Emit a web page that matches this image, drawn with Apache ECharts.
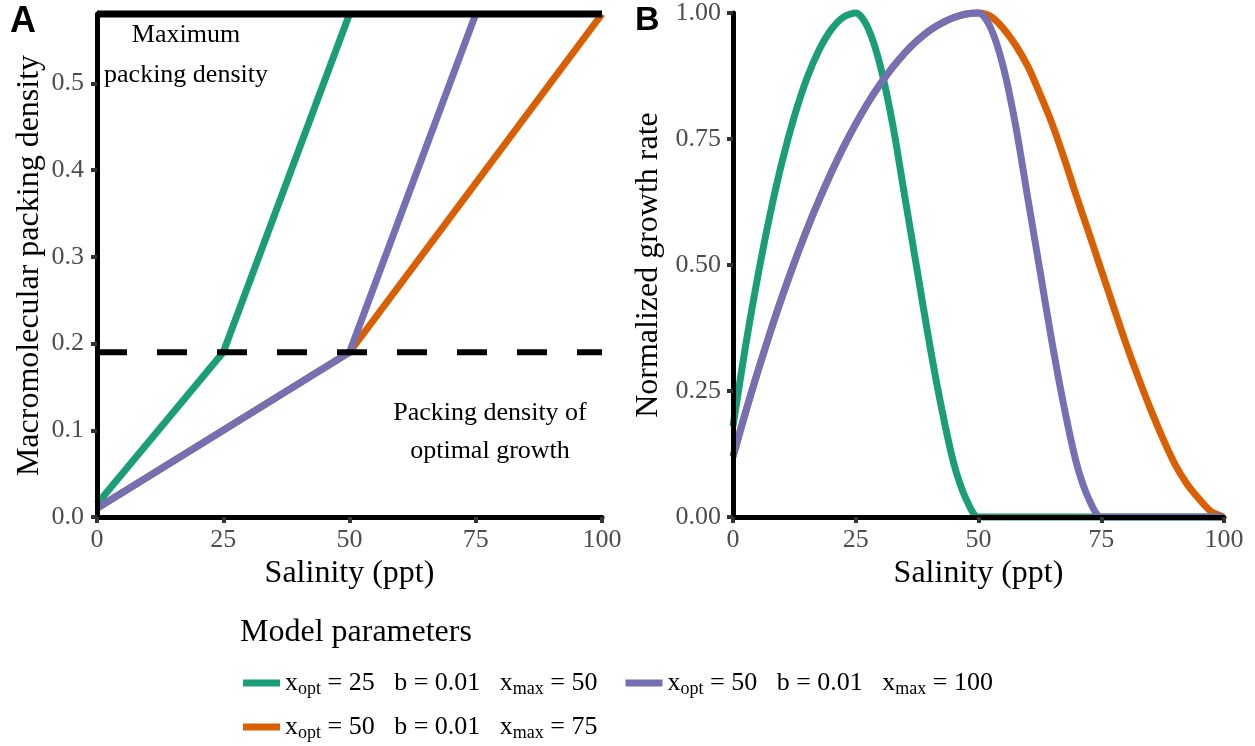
<!DOCTYPE html>
<html><head><meta charset="utf-8">
<script src="https://cdn.jsdelivr.net/npm/echarts@6/dist/echarts.min.js"></script>
<style>html,body{margin:0;padding:0;background:#fff}#c{width:1255px;height:746px}</style>
</head><body><div id="c"></div>
<script>
// ---------- data ----------
const salinityTicks = [0, 25, 50, 75, 100];
const packTicks = [0, 0.1, 0.2, 0.3, 0.4, 0.5];
const growthTicks = [0, 0.25, 0.5, 0.75, 1];
const maxPacking = 0.58;
const optPacking = 0.19;

// Panel A: macromolecular packing density
const packGreenX = [0, 25, 50];
const packGreenY = [0.015, 0.19, 0.58];
const packPurpleX = [0, 50, 75];
const packPurpleY = [0.01, 0.19, 0.58];
const packOrangeX = [0, 50, 100];
const packOrangeY = [0.01, 0.19, 0.58];

// Panel B: normalized growth rate
const salinity = [0, 2.5, 5, 7.5, 10, 12.5, 15, 17.5, 20, 22.5, 25, 27.5, 30, 32.5, 35, 37.5, 40, 42.5, 45, 47.5,
  50, 52.5, 55, 57.5, 60, 62.5, 65, 67.5, 70, 72.5, 75, 77.5, 80, 82.5, 85, 87.5, 90, 92.5, 95, 97.5, 100];
const growthGreen = [0.18, 0.336, 0.475, 0.598, 0.705, 0.795, 0.869, 0.926, 0.967, 0.992, 1.00, 0.97, 0.895, 0.78, 0.635, 0.49, 0.345, 0.215, 0.105, 0.035,
  0, 0, 0, 0, 0, 0, 0, 0, 0, 0, 0, 0, 0, 0, 0, 0, 0, 0, 0, 0, 0];
const growthPurple = [0.12, 0.206, 0.287, 0.364, 0.437, 0.505, 0.569, 0.628, 0.683, 0.734, 0.780, 0.822, 0.859, 0.892, 0.921, 0.945, 0.965, 0.980, 0.991, 0.998,
  1.00, 0.97, 0.895, 0.78, 0.635, 0.49, 0.345, 0.215, 0.105, 0.035, 0, 0, 0, 0, 0, 0, 0, 0, 0, 0, 0];
const growthOrange = [0.12, 0.206, 0.287, 0.364, 0.437, 0.505, 0.569, 0.628, 0.683, 0.734, 0.780, 0.822, 0.859, 0.892, 0.921, 0.945, 0.965, 0.980, 0.991, 0.998,
  1.00, 0.993, 0.97, 0.937, 0.895, 0.84, 0.78, 0.71, 0.635, 0.563, 0.49, 0.417, 0.345, 0.278, 0.215, 0.157, 0.105, 0.065, 0.035, 0.01, 0];

const seriesKeys = ['green', 'purple', 'orange'];
const legendOpt = [25, 50, 50];
const legendB = ['0.01', '0.01', '0.01'];
const legendMax = [50, 100, 75];

// ---------- styles ----------
const COL = { green: '#1B9E77', purple: '#7570B3', orange: '#D95F02' };
const SERIF = 'Liberation Serif';
const LW = 7;

const zip = (xs, ys) => xs.map((x, i) => [x, ys[i]]);

function xAxisCfg(gi) {
  return {
    type: 'value', gridIndex: gi, min: 0, max: 100, interval: 25, z: 5,
    name: 'Salinity (ppt)', nameLocation: 'middle', nameGap: 38,
    nameTextStyle: { fontFamily: SERIF, fontSize: 32, color: '#000' },
    axisLine: { show: true, onZero: false, lineStyle: { color: '#000', width: 5 } },
    axisTick: { show: true, length: 6, lineStyle: { color: '#333', width: 4 }, customValues: salinityTicks },
    axisLabel: { fontFamily: SERIF, fontSize: 26, color: '#4D4D4D', margin: 10, customValues: salinityTicks },
    splitLine: { show: false }
  };
}

const labelMap = {};
seriesKeys.forEach((k, i) => {
  labelMap[k] = 'x{s|opt}{n| = ' + legendOpt[i] + '   b = ' + legendB[i] + '   }x{s|max}{n| = ' + legendMax[i] + '}';
});

const legendText = {
  fontFamily: SERIF, fontSize: 26, color: '#000', lineHeight: 30,
  rich: {
    n: { fontFamily: SERIF, fontSize: 26, color: '#000', lineHeight: 30 },
    s: { fontFamily: SERIF, fontSize: 18, color: '#000', lineHeight: 12, verticalAlign: 'bottom' }
  }
};

function lineSeries(name, data, xi, yi, color, z) {
  return {
    name: name, type: 'line', xAxisIndex: xi, yAxisIndex: yi, data: data,
    showSymbol: false, symbol: 'none', clip: false, z: z || 2,
    lineStyle: { color: color, width: LW, join: 'round', cap: 'butt' },
    itemStyle: { color: color }
  };
}

const chart = echarts.init(document.getElementById('c'), null, { renderer: 'canvas' });
chart.setOption({
  animation: false,
  backgroundColor: '#fff',
  grid: [
    { left: 97, right: 653, top: 14, bottom: 229 },
    { left: 733, right: 31, top: 13, bottom: 229 }
  ],
  xAxis: [xAxisCfg(0), xAxisCfg(1)],
  yAxis: [
    {
      type: 'value', gridIndex: 0, min: 0, max: maxPacking, z: 5,
      name: 'Macromolecular packing density', nameLocation: 'middle', nameGap: 51,
      nameTextStyle: { fontFamily: SERIF, fontSize: 32, color: '#000' },
      axisLine: { show: true, onZero: false, lineStyle: { color: '#000', width: 5 } },
      axisTick: { show: true, length: 6, lineStyle: { color: '#333', width: 4 }, customValues: packTicks },
      axisLabel: { fontFamily: SERIF, fontSize: 26, color: '#4D4D4D', margin: 13, customValues: packTicks,
        formatter: v => Number(v).toFixed(1) },
      splitLine: { show: false }
    },
    {
      type: 'value', gridIndex: 1, min: 0, max: 1, interval: 0.25, z: 5,
      name: 'Normalized growth rate', nameLocation: 'middle', nameGap: 68,
      nameTextStyle: { fontFamily: SERIF, fontSize: 32, color: '#000' },
      axisLine: { show: true, onZero: false, lineStyle: { color: '#000', width: 5 } },
      axisTick: { show: true, length: 6, lineStyle: { color: '#333', width: 4 }, customValues: growthTicks },
      axisLabel: { fontFamily: SERIF, fontSize: 26, color: '#4D4D4D', margin: 12, customValues: growthTicks,
        formatter: v => Number(v).toFixed(2) },
      splitLine: { show: false }
    }
  ],
  legend: [
    {
      data: ['green', 'purple'], left: 243, top: 668, orient: 'horizontal', padding: 0,
      icon: 'rect', itemWidth: 37, itemHeight: 7, itemGap: 28,
      formatter: n => labelMap[n], textStyle: legendText, selectedMode: false
    },
    {
      data: ['orange'], left: 243, top: 712, orient: 'horizontal', padding: 0,
      icon: 'rect', itemWidth: 37, itemHeight: 7, itemGap: 28,
      formatter: n => labelMap[n], textStyle: legendText, selectedMode: false
    }
  ],
  graphic: [
    { type: 'text', left: 10, top: 4, style: { text: 'A', fontFamily: 'Liberation Sans', fontWeight: 'bold', fontSize: 36, fill: '#000' } },
    { type: 'text', left: 635, top: 4, style: { text: 'B', fontFamily: 'Liberation Sans', fontWeight: 'bold', fontSize: 34, fill: '#000' } },
    { type: 'text', x: 186, y: 55, style: { text: 'Maximum\npacking density', fontFamily: SERIF, fontSize: 26, lineHeight: 40, fill: '#000', align: 'center', verticalAlign: 'middle' } },
    { type: 'text', x: 490, y: 432, style: { text: 'Packing density of\noptimal growth', fontFamily: SERIF, fontSize: 26, lineHeight: 38, fill: '#000', align: 'center', verticalAlign: 'middle' } },
    { type: 'text', x: 240, y: 633, style: { text: 'Model parameters', fontFamily: SERIF, fontSize: 32, fill: '#000', align: 'left', verticalAlign: 'middle' } }
  ],
  series: [
    // Panel A
    lineSeries('orange', zip(packOrangeX, packOrangeY), 0, 0, COL.orange, 2),
    lineSeries('green', zip(packGreenX, packGreenY), 0, 0, COL.green, 2),
    lineSeries('purple', zip(packPurpleX, packPurpleY), 0, 0, COL.purple, 2),
    {
      type: 'line', xAxisIndex: 0, yAxisIndex: 0, data: [[0, maxPacking], [100, maxPacking]], z: 3,
      symbol: 'none', clip: false, silent: true, lineStyle: { color: '#000', width: 7, cap: 'butt' }
    },
    {
      type: 'line', xAxisIndex: 0, yAxisIndex: 0, data: [[0, optPacking], [100, optPacking]], z: 3,
      symbol: 'none', clip: false, silent: true, lineStyle: { color: '#000', width: 6, type: [30, 30], cap: 'butt' }
    },
    // Panel B
    Object.assign(lineSeries('orange', zip(salinity, growthOrange), 1, 1, COL.orange, 2), { smooth: 0.3 }),
    Object.assign(lineSeries('green', zip(salinity, growthGreen), 1, 1, COL.green, 2), { smooth: 0.3 }),
    Object.assign(lineSeries('purple', zip(salinity, growthPurple), 1, 1, COL.purple, 2), { smooth: 0.3 })
  ]
});
</script>
</body></html>
